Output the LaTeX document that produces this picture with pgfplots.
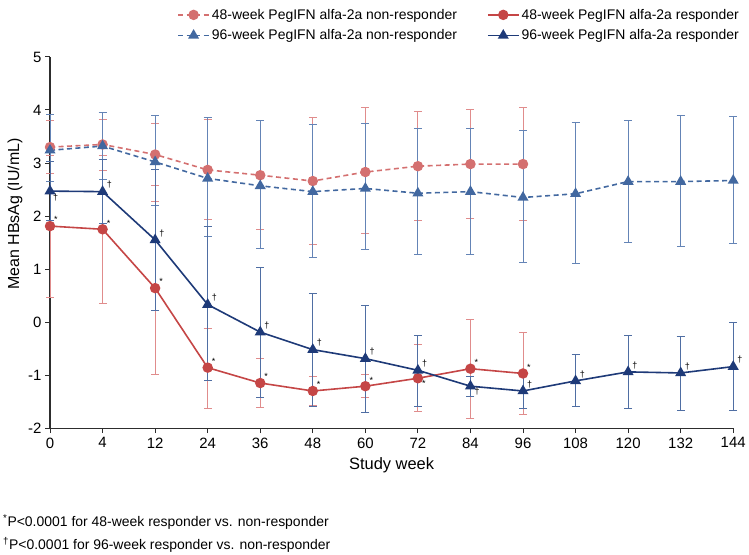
\documentclass[border=0pt]{standalone}
\usepackage{fontspec}
\setmainfont{Liberation Sans}
\usepackage{pgfplots}
\pgfplotsset{compat=1.18}
\usepackage{pgfplotstable}

\definecolor{rR}{RGB}{197,70,70}
\definecolor{rNR}{RGB}{212,112,112}
\definecolor{rErr}{RGB}{224,140,140}
\definecolor{bR}{RGB}{30,58,120}
\definecolor{bNR}{RGB}{66,104,160}
\definecolor{bErr}{RGB}{100,132,182}
\definecolor{axc}{RGB}{45,45,45}

\pgfplotstableread{
x y ep em
0 3.30 0.50 0.50
1 3.35 0.47 0.49
2 3.16 0.58 0.58
3 2.87 0.95 0.93
4 2.77 1.03 1.02
5 2.66 1.19 1.20
6 2.83 1.21 1.16
7 2.94 1.04 1.02
8 2.98 1.03 1.02
9 2.98 1.07 1.06
}\rNRtab

\pgfplotstableread{
x y ep em
0 3.24 0.67 0.58
1 3.32 0.64 0.63
2 3.02 0.87 0.82
3 2.71 1.15 1.10
4 2.57 1.23 1.19
5 2.46 1.26 1.24
6 2.52 1.22 1.16
7 2.43 1.22 1.15
8 2.46 1.19 1.18
9 2.35 1.26 1.23
10 2.42 1.35 1.31
11 2.65 1.16 1.15
12 2.65 1.24 1.22
13 2.67 1.21 1.19
}\bNRtab

\pgfplotstableread{
x y ep em
0 1.81 1.34 1.34
1 1.75 1.40 1.40
2 0.64 1.63 1.63
3 -0.86 0.74 0.77
4 -1.15 0.47 0.46
5 -1.30 0.28 0.28
6 -1.21 0.22 0.22
7 -1.06 0.63 0.62
8 -0.88 0.93 0.94
9 -0.97 0.77 0.77
}\rRtab

\pgfplotstableread{
x y ep em
0 2.47 0.55 0.55
1 2.46 0.60 0.60
2 1.55 1.33 1.33
3 0.33 1.47 1.44
4 -0.19 1.22 1.24
5 -0.52 1.06 1.07
6 -0.69 1.01 1.01
7 -0.91 0.65 0.69
8 -1.21 0.19 0.20
9 -1.30 0.33 0.33
10 -1.11 0.49 0.48
11 -0.94 0.69 0.69
12 -0.96 0.69 0.70
13 -0.84 0.84 0.82
}\bRtab

\begin{document}
\begin{tikzpicture}
\begin{axis}[
  scale only axis, width=683bp, height=371bp,
  xmin=0, xmax=13, ymin=-2, ymax=5,
  axis lines=left, axis line style={-, draw=axc, line width=1.1bp},
  xtick={0,...,13},
  xticklabels={0,4,12,24,36,48,60,72,84,96,108,120,132,144},
  ytick={-2,-1,0,1,2,3,4,5},
  yticklabels={-2,-1,0,1,2,3,4,5},
  tick align=outside, major tick length=5bp,
  tick style={draw=axc, line width=1bp},
  ticklabel style={font=\fontsize{15}{15}\selectfont, text=black},
  xticklabel style={yshift=-1bp},
  xlabel={Study week},
  xlabel style={at={(axis description cs:0.5,-0.0997)}, anchor=center, font=\fontsize{16.5}{17}\selectfont},
  ylabel={Mean HBsAg (IU/mL)},
  ylabel style={at={(axis description cs:-0.0512,0.577)}, anchor=center, font=\fontsize{16}{17}\selectfont},
  clip=false,
  legend columns=2,
  legend cell align=left,
  legend style={at={(axis description cs:0.186,1.135)}, anchor=north west, draw=none, fill=none,
    font=\fontsize{14}{14}\selectfont, inner sep=0pt,
    /tikz/every even column/.append style={column sep=28bp},
    /tikz/row sep=5bp},
  legend image code/.code={\draw[mark repeat=2,mark phase=2,#1] plot coordinates {(0bp,0bp)(15.5bp,0bp)(31bp,0bp)};},
  error bars/y dir=both, error bars/y explicit,
]
% 48-week non-responder
\addplot[rNR, line width=1.6bp, dash pattern=on 5bp off 3.5bp, mark=*, mark size=4.4bp,
  mark options={solid, fill=rNR, draw=rNR},
  error bars/error bar style={rErr, line width=1bp, solid},
  error bars/error mark options={rotate=90, mark size=4bp, rErr, line width=1bp, solid}]
  table[x=x, y=y, y error plus=ep, y error minus=em]{\rNRtab};
\addlegendentry{48-week PegIFN alfa-2a non-responder}
% 48-week responder
\addplot[rR, line width=1.6bp, mark=*, mark size=4.4bp,
  mark options={solid, fill=rR, draw=rR},
  error bars/error bar style={rErr, line width=1bp},
  error bars/error mark options={rotate=90, mark size=4bp, rErr, line width=1bp}]
  table[x=x, y=y, y error plus=ep, y error minus=em]{\rRtab};
\addlegendentry{48-week PegIFN alfa-2a responder}
% 96-week non-responder
\addplot[bNR, line width=1.6bp, dash pattern=on 5bp off 3.5bp, mark=triangle*, mark size=4.8bp,
  mark options={solid, fill=bNR, draw=bNR},
  error bars/error bar style={bErr, line width=1bp, solid},
  error bars/error mark options={rotate=90, mark size=4bp, bErr, line width=1bp, solid}]
  table[x=x, y=y, y error plus=ep, y error minus=em]{\bNRtab};
\addlegendentry{96-week PegIFN alfa-2a non-responder}
% 96-week responder
\addplot[bR, line width=1.6bp, mark=triangle*, mark size=4.8bp,
  mark options={solid, fill=bR, draw=bR},
  error bars/error bar style={bErr!70!bR, line width=1bp},
  error bars/error mark options={rotate=90, mark size=4bp, bErr!70!bR, line width=1bp}]
  table[x=x, y=y, y error plus=ep, y error minus=em]{\bRtab};
\addlegendentry{96-week PegIFN alfa-2a responder}

% significance marks
\tikzset{ann/.style={font=\fontsize{9}{9}\selectfont, inner sep=0pt, text=black}}
\node[ann, anchor=south west, xshift=4bp, yshift=3bp] at (axis cs:0,1.81) {*};
\node[ann, anchor=south west, xshift=4bp, yshift=3bp] at (axis cs:1,1.75) {*};
\node[ann, anchor=south west, xshift=4bp, yshift=3bp] at (axis cs:2,0.64) {*};
\node[ann, anchor=south west, xshift=4bp, yshift=3bp] at (axis cs:3,-0.86) {*};
\node[ann, anchor=south west, xshift=4bp, yshift=3bp] at (axis cs:4,-1.15) {*};
\node[ann, anchor=south west, xshift=4bp, yshift=3bp] at (axis cs:5,-1.30) {*};
\node[ann, anchor=south west, xshift=4bp, yshift=3bp] at (axis cs:6,-1.21) {*};
\node[ann, anchor=north west, xshift=4bp, yshift=-2bp] at (axis cs:7,-1.06) {*};
\node[ann, anchor=south west, xshift=4bp, yshift=3bp] at (axis cs:8,-0.88) {*};
\node[ann, anchor=south west, xshift=4bp, yshift=3bp] at (axis cs:9,-0.97) {*};

\node[ann, anchor=north west, xshift=3bp, yshift=-3bp] at (axis cs:0,2.47) {†};
\node[ann, anchor=south west, xshift=4bp, yshift=3bp] at (axis cs:1,2.46) {†};
\node[ann, anchor=south west, xshift=4bp, yshift=3bp] at (axis cs:2,1.55) {†};
\node[ann, anchor=south west, xshift=4bp, yshift=3bp] at (axis cs:3,0.33) {†};
\node[ann, anchor=south west, xshift=4bp, yshift=3bp] at (axis cs:4,-0.19) {†};
\node[ann, anchor=south west, xshift=4bp, yshift=3bp] at (axis cs:5,-0.52) {†};
\node[ann, anchor=south west, xshift=4bp, yshift=3bp] at (axis cs:6,-0.69) {†};
\node[ann, anchor=south west, xshift=4bp, yshift=3bp] at (axis cs:7,-0.91) {†};
\node[ann, anchor=north west, xshift=4bp, yshift=-2bp] at (axis cs:8,-1.21) {†};
\node[ann, anchor=south west, xshift=4bp, yshift=3bp] at (axis cs:9,-1.30) {†};
\node[ann, anchor=south west, xshift=4bp, yshift=3bp] at (axis cs:10,-1.11) {†};
\node[ann, anchor=south west, xshift=4bp, yshift=3bp] at (axis cs:11,-0.94) {†};
\node[ann, anchor=south west, xshift=4bp, yshift=3bp] at (axis cs:12,-0.96) {†};
\node[ann, anchor=south west, xshift=4bp, yshift=3bp] at (axis cs:13,-0.84) {†};

% footnotes
\node[anchor=west, inner sep=0pt, font=\fontsize{14}{14}\selectfont] at (axis description cs:-0.0688,-0.2534)
  {\textsuperscript{*}P<0.0001 for 48-week responder vs. non-responder};
\node[anchor=west, inner sep=0pt, font=\fontsize{14}{14}\selectfont] at (axis description cs:-0.0688,-0.3154)
  {\textsuperscript{†}P<0.0001 for 96-week responder vs. non-responder};

% fix the picture's extent
\path (axis cs:-0.952,6.075) rectangle (axis cs:13.30,-4.377);
\end{axis}
\end{tikzpicture}
\end{document}
